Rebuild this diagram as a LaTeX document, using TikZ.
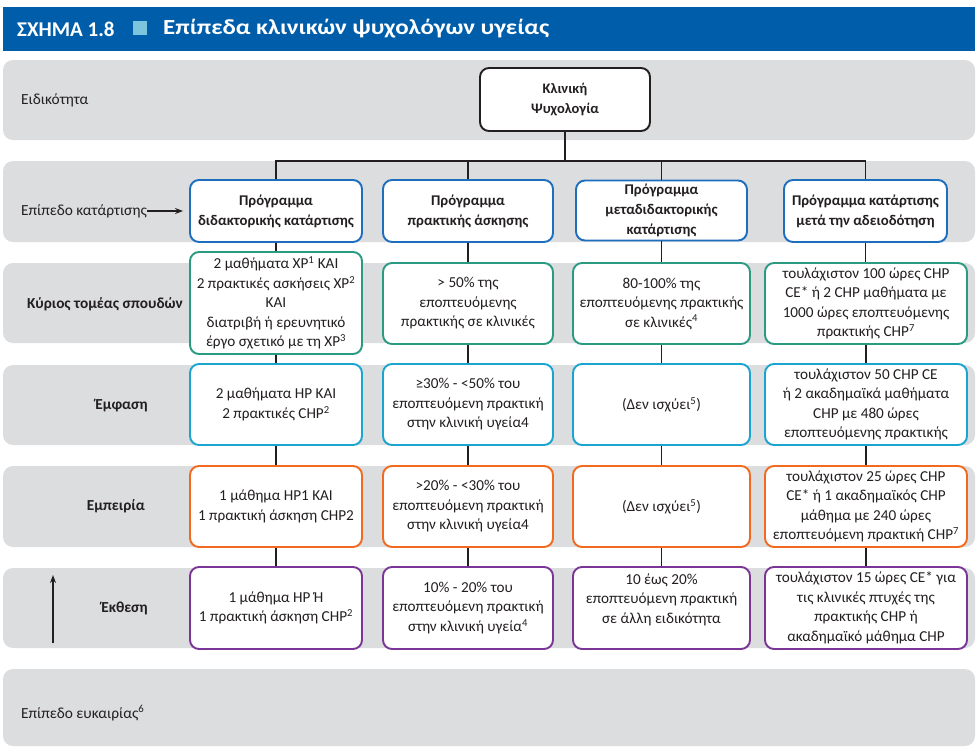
\documentclass[tikz,border=0pt]{standalone}
\usepackage{fontspec}
\setmainfont{Carlito}
\usetikzlibrary{arrows.meta}
\definecolor{ink}{HTML}{231F20}
\definecolor{hdrblue}{HTML}{005DAA}
\definecolor{hdrsq}{HTML}{7CC5DD}
\definecolor{band}{HTML}{DCDDDF}
\definecolor{progblue}{HTML}{1E6EBE}
\definecolor{teal}{HTML}{2A9A82}
\definecolor{cyanb}{HTML}{1AA4D0}
\definecolor{orng}{HTML}{F26A1F}
\definecolor{purp}{HTML}{7A3596}
\tikzset{
  bandrow/.style={fill=band, rounded corners=10pt, draw=none},
  cell/.style={draw, line width=1.9pt, rounded corners=9pt, fill=white,
    align=center, inner sep=1pt, text=ink,
    font=\fontsize{15.2}{19.5}\selectfont},
  progbox/.style={cell, draw=progblue, font=\bfseries\fontsize{14.8}{20}\selectfont},
  mainbox/.style={cell, draw=teal},
  emphbox/.style={cell, draw=cyanb},
  expbox/.style={cell, draw=orng},
  expobox/.style={cell, draw=purp},
  rowlabel/.style={text=ink, inner sep=0pt, font=\fontsize{15.4}{17}\selectfont},
  rowlabelb/.style={rowlabel, font=\bfseries\fontsize{15.3}{17}\selectfont},
  link/.style={draw=ink, line width=1.5pt},
}
\newcommand{\sps}[1]{\textsuperscript{#1}}
\begin{document}
\begin{tikzpicture}[x=1pt, y=-1pt]
\useasboundingbox (0,0) rectangle (978,748);

% title bar
\fill[hdrblue] (3,7) rectangle (975,51);
\fill[hdrsq] (133,21) rectangle (147,35);
\node[anchor=west, text=white, inner sep=0pt, font=\bfseries\fontsize{21}{24}\selectfont] (fig) at (17,29) {ΣΧΗΜΑ 1.8};
\node[anchor=west, text=white, inner sep=0pt, font=\bfseries\fontsize{21.5}{24}\selectfont] (title) at (163,29) {\scalebox{1.16}[1]{Επίπεδα κλινικών ψυχολόγων υγείας}};

% grey level bands
\path[bandrow] (3,60) rectangle (975,140);
\path[bandrow] (3,161) rectangle (975,242);
\path[bandrow] (3,263) rectangle (975,343);
\path[bandrow] (3,365) rectangle (975,445);
\path[bandrow] (3,466) rectangle (975,547);
\path[bandrow] (3,568) rectangle (975,648);
\path[bandrow] (3,669) rectangle (975,746);

% row labels
\node[rowlabel, anchor=west] (lspec) at (21,100) {Ειδικότητα};
\node[rowlabel, anchor=west] (ltrain) at (21,211) {Επίπεδο κατάρτισης};
\node[rowlabelb, anchor=east] (lmain) at (183,304) {Κύριος τομέας σπουδών};
\node[rowlabelb, anchor=east] (lemph) at (148,406) {Έμφαση};
\node[rowlabelb, anchor=east] (lexp) at (145,506) {Εμπειρία};
\node[rowlabelb, anchor=east] (lexpo) at (148,608) {Έκθεση};
\node[rowlabel, anchor=west] (lopp) at (21,713) {Επίπεδο ευκαιρίας\sps{6}};

% specialty
\node[cell, draw=ink, font=\bfseries\fontsize{14.5}{20}\selectfont,
  minimum width=170pt, minimum height=63pt] (klin) at (565,99.5) {Κλινική\\Ψυχολογία};

% training programmes
\node[progbox, minimum width=172pt, minimum height=62pt] (t1) at (276,211) {Πρόγραμμα\\διδακτορικής κατάρτισης};
\node[progbox, minimum width=170pt, minimum height=62pt] (t2) at (468,211) {Πρόγραμμα\\πρακτικής άσκησης};
\node[progbox, minimum width=171pt, minimum height=60pt] (t3) at (661.5,210.5) {Πρόγραμμα\\μεταδιδακτορικής\\κατάρτισης};
\node[progbox, minimum width=163pt, minimum height=62pt] (t4) at (865.5,211) {Πρόγραμμα κατάρτισης\\μετά την αδειοδότηση};

% main field of study
\node[mainbox, minimum width=172pt, minimum height=102pt] (a1) at (276,303) {2 μαθήματα ΧΡ\sps{1} ΚΑΙ\\2 πρακτικές ασκήσεις ΧΡ\sps{2}\\ΚΑΙ\\διατριβή ή ερευνητικό\\έργο σχετικό με τη ΧΡ\sps{3}};
\node[mainbox, minimum width=170pt, minimum height=81pt] (a2) at (468,303.5) {> 50\% της\\εποπτευόμενης\\πρακτικής σε κλινικές};
\node[mainbox, minimum width=177pt, minimum height=81pt] (a3) at (661.5,303.5) {80-100\% της\\εποπτευόμενης πρακτικής\\σε κλινικές\sps{4}};
\node[mainbox, minimum width=202pt, minimum height=81pt] (a4) at (866,303.5) {τουλάχιστον 100 ώρες CHP\\CE* ή 2 CHP μαθήματα με\\1000 ώρες εποπτευόμενης\\πρακτικής CHP\sps{7}};

% emphasis
\node[emphbox, minimum width=172pt, minimum height=81pt] (b1) at (276,404.5) {2 μαθήματα HP ΚΑΙ\\2 πρακτικές CHP\sps{2}};
\node[emphbox, minimum width=170pt, minimum height=81pt] (b2) at (468,404.5) {≥30\% - <50\% του\\εποπτευόμενη πρακτική\\στην κλινική υγεία4};
\node[emphbox, minimum width=177pt, minimum height=81pt] (b3) at (661.5,404.5) {(Δεν ισχύει\sps{5})};
\node[emphbox, minimum width=202pt, minimum height=81pt] (b4) at (866,404.5) {τουλάχιστον 50 CHP CE\\ή 2 ακαδημαϊκά μαθήματα\\CHP με 480 ώρες\\εποπτευόμενης πρακτικής};

% experience
\node[expbox, minimum width=172pt, minimum height=81pt] (c1) at (276,506.5) {1 μάθημα HP1 ΚΑΙ\\1 πρακτική άσκηση CHP2};
\node[expbox, minimum width=170pt, minimum height=81pt] (c2) at (468,506.5) {>20\% - <30\% του\\εποπτευόμενη πρακτική\\στην κλινική υγεία4};
\node[expbox, minimum width=177pt, minimum height=81pt] (c3) at (661.5,506.5) {(Δεν ισχύει\sps{5})};
\node[expbox, minimum width=202pt, minimum height=81pt] (c4) at (866,506.5) {τουλάχιστον 25 ώρες CHP\\CE* ή 1 ακαδημαϊκός CHP\\μάθημα με 240 ώρες\\εποπτευόμενη πρακτική CHP\sps{7}};

% exposure
\node[expobox, minimum width=172pt, minimum height=82pt] (d1) at (276,608) {1 μάθημα HP Ή\\1 πρακτική άσκηση CHP\sps{2}};
\node[expobox, minimum width=170pt, minimum height=82pt] (d2) at (468,608) {10\% - 20\% του\\εποπτευόμενη πρακτική\\στην κλινική υγεία\sps{4}};
\node[expobox, minimum width=177pt, minimum height=82pt] (d3) at (661.5,608) {10 έως 20\%\\εποπτευόμενη πρακτική\\σε άλλη ειδικότητα\\[0pt]\mbox{}};
\node[expobox, minimum width=202pt, minimum height=82pt] (d4) at (866,608) {τουλάχιστον 15 ώρες CE* για\\τις κλινικές πτυχές της\\πρακτικής CHP ή\\ακαδημαϊκό μάθημα CHP};

% tree from the specialty to the programmes
\coordinate (bus) at (565,161);
\draw[link] (klin.south) -- (bus);
\foreach \t in {t1,t2,t3,t4} \draw[link] (\t.north) |- (bus);

% column links between levels
\foreach \u/\v in {t1/a1,a1/b1,b1/c1,c1/d1,
                   t2/a2,a2/b2,b2/c2,c2/d2,
                   t3/a3,a3/b3,b3/c3,c3/d3,
                   t4/a4,a4/b4,b4/c4,c4/d4}
  \draw[link] (\u.south) -- (\u.south |- \v.north);

% arrows
\draw[ink, line width=1.3pt, -{Stealth[length=8pt,width=6pt]}] (ltrain.east) -- ([xshift=-6pt]t1.west);
\coordinate (upbot) at (53,643);
\coordinate (uptop) at (53,575);
\draw[ink, line width=1.3pt, -{Stealth[length=8pt,width=6pt]}] (upbot) -- (uptop);
\end{tikzpicture}
\end{document}
